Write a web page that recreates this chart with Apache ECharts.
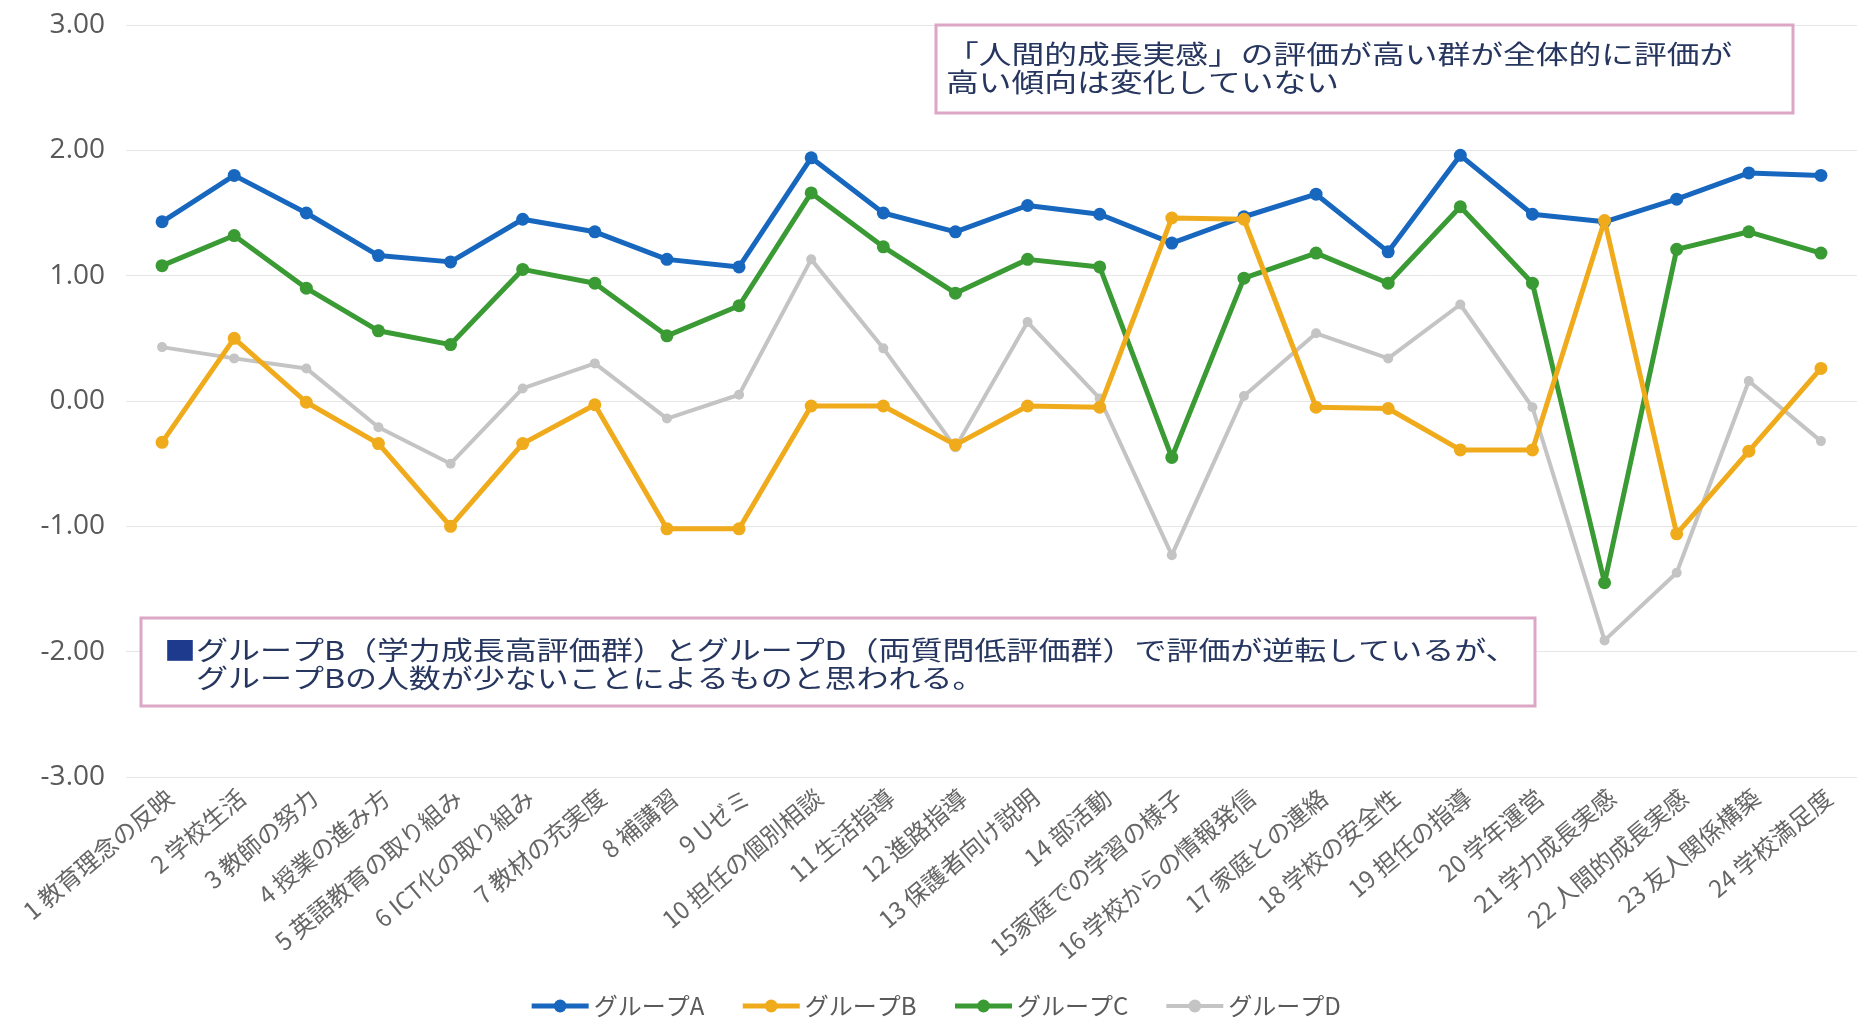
<!DOCTYPE html>
<html>
<head>
<meta charset="utf-8">
<title>グループ別評価</title>
<script src="https://cdn.jsdelivr.net/npm/echarts@6/dist/echarts.min.js"></script>
<style>
  html, body { margin: 0; padding: 0; background: #fff; }
  #chart { width: 1870px; height: 1018px; }
</style>
</head>
<body>
<div id="chart"></div>
<script>
// 項目
const categories = [
  '1 教育理念の反映', '2 学校生活', '3 教師の努力', '4 授業の進み方',
  '5 英語教育の取り組み', '6 ICT化の取り組み', '7 教材の充実度', '8 補講習',
  '9 Uゼミ', '10 担任の個別相談', '11 生活指導', '12 進路指導',
  '13 保護者向け説明', '14 部活動', '15家庭での学習の様子', '16 学校からの情報発信',
  '17 家庭との連絡', '18 学校の安全性', '19 担任の指導', '20 学年運営',
  '21 学力成長実感', '22 人間的成長実感', '23 友人関係構築', '24 学校満足度'
];

const groupNames = ['グループA', 'グループB', 'グループC', 'グループD'];

const groupA = [1.43, 1.80, 1.50, 1.16, 1.11, 1.45, 1.35, 1.13, 1.07, 1.94, 1.50, 1.35,
                1.56, 1.49, 1.26, 1.47, 1.65, 1.19, 1.96, 1.49, 1.43, 1.61, 1.82, 1.80];
const groupB = [-0.33, 0.50, -0.01, -0.34, -1.00, -0.34, -0.03, -1.02, -1.02, -0.04, -0.04, -0.35,
                -0.04, -0.05, 1.46, 1.45, -0.05, -0.06, -0.39, -0.39, 1.44, -1.06, -0.40, 0.26];
const groupC = [1.08, 1.32, 0.90, 0.56, 0.45, 1.05, 0.94, 0.52, 0.76, 1.66, 1.23, 0.86,
                1.13, 1.07, -0.45, 0.98, 1.18, 0.94, 1.55, 0.94, -1.45, 1.21, 1.35, 1.18];
const groupD = [0.43, 0.34, 0.26, -0.21, -0.50, 0.10, 0.30, -0.14, 0.05, 1.13, 0.42, -0.37,
                0.63, 0.02, -1.23, 0.04, 0.54, 0.34, 0.77, -0.05, -1.91, -1.37, 0.16, -0.32];

// 注記
const noteTop = [
  '「人間的成長実感」の評価が高い群が全体的に評価が',
  '高い傾向は変化していない'
];
const noteBottom = [
  'グループB（学力成長高評価群）とグループD（両質問低評価群）で評価が逆転しているが、',
  'グループBの人数が少ないことによるものと思われる。'
];

const font = '"Noto Sans CJK JP", "Noto Sans", sans-serif';
const colors = ['#1767bf', '#f0ab1c', '#3a9a33', '#c4c4c4'];
const widths = [5, 5, 5, 4];
const chart = echarts.init(document.getElementById('chart'));

function lineSeries(i, data, size, z) {
  return {
    name: groupNames[i],
    type: 'line',
    data: data,
    z: z,
    symbol: 'circle',
    symbolSize: size,
    lineStyle: { color: colors[i], width: widths[i] },
    itemStyle: { color: colors[i] },
    emphasis: { disabled: true }
  };
}

chart.setOption({
  animation: false,
  backgroundColor: '#fff',
  textStyle: { fontFamily: font },
  grid: { left: 126, right: 13, top: 25, bottom: 241 },
  legend: {
    data: groupNames.map((n, i) => ({ name: n, lineStyle: { width: widths[i] } })),
    left: 'center',
    top: 989,
    itemWidth: 57,
    itemHeight: 16,
    itemGap: 36,
    textStyle: { fontSize: 24, color: '#5a5a5a', fontFamily: font }
  },
  xAxis: {
    type: 'category',
    data: categories,
    boundaryGap: true,
    axisLine: { show: false, onZero: false },
    axisTick: { show: false },
    axisLabel: {
      interval: 0,
      rotate: 40,
      margin: 8,
      align: 'right',
      verticalAlign: 'top',
      fontSize: 24,
      color: '#666',
      fontFamily: font
    }
  },
  yAxis: {
    type: 'value',
    min: -3,
    max: 3,
    interval: 1,
    axisLine: { show: false },
    axisTick: { show: false },
    splitLine: { lineStyle: { color: '#e6e6e6', width: 1 } },
    axisLabel: {
      margin: 21,
      fontSize: 28,
      color: '#595959',
      fontFamily: '"Open Sans", "Noto Sans", sans-serif',
      formatter: v => v.toFixed(2)
    }
  },
  series: [
    lineSeries(0, groupA, 13, 3),
    lineSeries(1, groupB, 13, 5),
    lineSeries(2, groupC, 13, 4),
    lineSeries(3, groupD, 10, 2)
  ],
  graphic: [
    {
      type: 'rect',
      z: 100,
      shape: { x: 936, y: 25, width: 857, height: 88 },
      style: { fill: '#fff', stroke: '#dca6c6', lineWidth: 3 }
    },
    {
      type: 'text',
      z: 101,
      x: 946,
      y: 40,
      scaleX: 1.26,
      style: {
        text: noteTop.join('\n'),
        font: '26px ' + font,
        fill: '#26365f',
        lineHeight: 28,
        verticalAlign: 'top'
      }
    },
    {
      type: 'rect',
      z: 100,
      shape: { x: 141, y: 618, width: 1394, height: 88 },
      style: { fill: '#fff', stroke: '#dca6c6', lineWidth: 3 }
    },
    {
      type: 'text',
      z: 101,
      x: 164,
      y: 636,
      scaleX: 1.23,
      style: {
        text: '{sq|■}' + noteBottom[0] + '\n　' + noteBottom[1],
        font: '26px ' + font,
        fill: '#26365f',
        lineHeight: 28,
        verticalAlign: 'top',
        rich: {
          sq: { fill: '#1e3a8c', font: '26px ' + font, lineHeight: 28 }
        }
      }
    }
  ]
});
</script>
</body>
</html>
